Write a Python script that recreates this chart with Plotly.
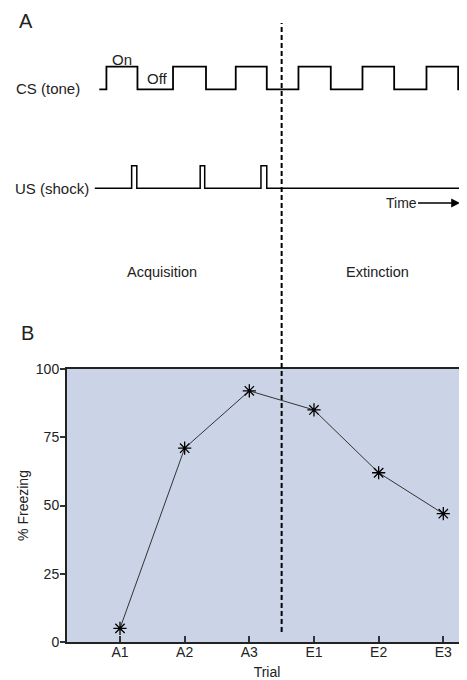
import plotly.graph_objects as go

# ---------------- data ----------------
trials = ["A1", "A2", "A3", "E1", "E2", "E3"]
freezing = [5, 71, 92, 85, 62, 47]
y_ticks = [0, 25, 50, 75, 100]

# timing diagram (time in trial units; trial k centred at k)
cs_on_times = [-0.21, 0.82, 1.79, 2.76, 3.75, 4.74]
cs_off_times = [0.27, 1.33, 2.27, 3.26, 4.24, 5.23]
us_on_times = [0.18, 1.24, 2.18]
us_off_times = [0.26, 1.31, 2.27]
cs_start_time = -0.32
us_start_time = -0.39

# ---------------- layout helpers ----------------
PAGE_OFF = 8                      # default body margin of the html page
W, H = 467 - PAGE_OFF, 680 - PAGE_OFF
ML, MR, MT, MB = 67 - PAGE_OFF, 0, 0, 38
PW, PH = W - ML - MR, H - MT - MB


def xp(px):
    """page pixel x -> paper fraction"""
    return (px - PAGE_OFF - ML) / PW


def yp(py):
    """page pixel y -> paper fraction"""
    return (H - MB - (py - PAGE_OFF)) / PH


# divider between acquisition and extinction
boundary = (trials.index("A3") + trials.index("E1")) / 2

px_per_unit = (443.3 - 120) / 5
x_lo = 0 - (120 - 67) / px_per_unit
x_hi = (len(trials) - 1) + (467 - 443.3) / px_per_unit


def square_wave(start, ons, offs, end):
    xs, ys = [start], [0]
    for a, b in zip(ons, offs):
        xs += [a, b]
        ys += [1, 0]
    xs.append(end)
    ys.append(0)
    return xs, ys


cs_x, cs_y = square_wave(cs_start_time, cs_on_times, cs_off_times, x_hi + 0.2)
us_x, us_y = square_wave(us_start_time, us_on_times, us_off_times, x_hi + 0.2)

FONT = "Liberation Sans, Arial, Helvetica, sans-serif"
TXT = "#222222"

fig = go.Figure()

fig.add_trace(go.Scatter(
    x=list(range(len(trials))), y=freezing, mode="lines+markers",
    line=dict(color="#333333", width=1),
    marker=dict(symbol="asterisk-open", size=11, color="black",
                line=dict(color="black", width=1.3)),
    xaxis="x", yaxis="y", showlegend=False, hoverinfo="skip"))

fig.add_trace(go.Scatter(
    x=cs_x, y=cs_y, mode="lines", line=dict(color="black", width=1.8, shape="hv"),
    xaxis="x", yaxis="y2", showlegend=False, hoverinfo="skip"))

fig.add_trace(go.Scatter(
    x=us_x, y=us_y, mode="lines", line=dict(color="black", width=1.5, shape="hv"),
    xaxis="x", yaxis="y3", showlegend=False, hoverinfo="skip"))

wave_range = [-0.252, 1.252]

fig.update_layout(
    template="none",
    width=W, height=H,
    margin=dict(l=ML, r=MR, t=MT, b=MB, autoexpand=False),
    paper_bgcolor="white", plot_bgcolor="rgba(0,0,0,0)",
    font=dict(family=FONT, size=14, color=TXT),
    xaxis=dict(domain=[0, 1], range=[x_lo, x_hi], automargin=False,
               tickvals=list(range(len(trials))), ticktext=trials,
               ticks="inside", ticklen=6, tickwidth=1.5, tickcolor="#333",
               showline=True, linewidth=2, linecolor="#222", mirror=True,
               showgrid=False, zeroline=False, ticklabelstandoff=-4,
               tickfont=dict(size=14, color=TXT),
               title=dict(text="Trial", font=dict(size=14, color=TXT), standoff=8)),
    yaxis=dict(domain=[0, yp(369)], range=[0, 100], tickvals=y_ticks, automargin=False,
               ticks="outside", ticklen=5, tickwidth=1.5, tickcolor="#333",
               showline=True, linewidth=2, linecolor="#222",
               showgrid=False, zeroline=False, ticklabelstandoff=-2,
               tickfont=dict(size=14, color=TXT),
               title=dict(text="% Freezing", font=dict(size=14, color=TXT), standoff=4)),
    yaxis2=dict(domain=[yp(95), yp(61)], range=wave_range, visible=False,
                anchor="x", fixedrange=True, automargin=False),
    yaxis3=dict(domain=[yp(194), yp(160)], range=wave_range, visible=False,
                anchor="x", fixedrange=True, automargin=False),
    shapes=[
        dict(type="rect", xref="x domain", yref="y domain", x0=0, x1=1, y0=0, y1=1,
             fillcolor="#CBD3E6", line=dict(width=0), layer="below"),
        dict(type="line", xref="x", yref="paper", x0=boundary, x1=boundary,
             y0=yp(632), y1=yp(23), line=dict(color="black", width=2, dash="5px,3px")),
    ],
)

ann = [
    dict(text="A", x=xp(26), y=yp(21), size=20),
    dict(text="B", x=xp(27), y=yp(333), size=20),
    dict(text="CS (tone)", x=xp(47.5), y=yp(89), size=15),
    dict(text="US (shock)", x=xp(52), y=yp(188), size=15),
    dict(text="On", x=xp(121.5), y=yp(59), size=15),
    dict(text="Off", x=xp(157.5), y=yp(79), size=15),
    dict(text="Acquisition", x=xp(162), y=yp(272), size=14.5),
    dict(text="Extinction", x=xp(377), y=yp(272), size=14.5),
]
for a in ann:
    fig.add_annotation(text=a["text"], x=a["x"], y=a["y"], xref="paper", yref="paper",
                       xanchor="center", yanchor="middle", showarrow=False,
                       font=dict(size=a["size"], color=TXT, family=FONT))

fig.add_annotation(text="Time", x=xp(460), y=yp(203), xref="paper", yref="paper",
                   ax=-59, ay=0, axref="pixel", ayref="pixel",
                   showarrow=True, arrowhead=2, arrowsize=1.1, arrowwidth=1.6,
                   arrowcolor="black", font=dict(size=14, color=TXT, family=FONT))

fig.write_html("out.html")
